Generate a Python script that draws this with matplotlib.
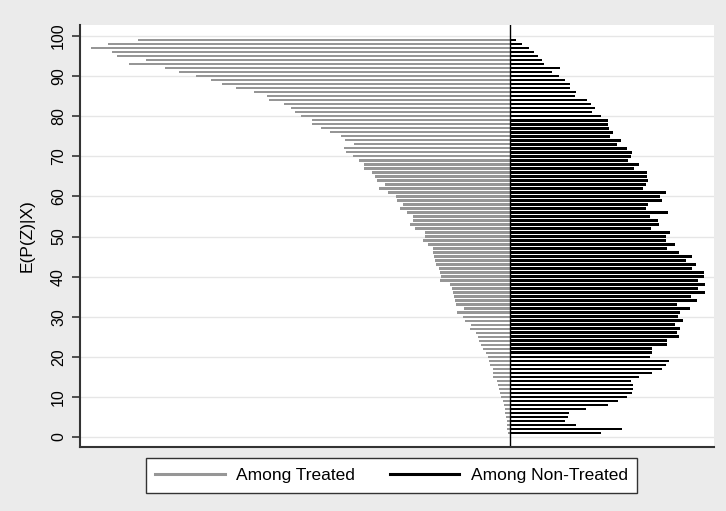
import matplotlib.pyplot as plt
from matplotlib.lines import Line2D
import numpy as np

# E(P(Z)|X) percentiles (1..99)
levels = np.arange(99, 0, -1)

# bar lengths (picture units), listed from 99 down to 1
treated = [371.4, 401.4, 419.0, 397.4, 392.7, 363.7, 380.7, 344.7, 330.7, 313.4,
           298.7, 287.4, 273.7, 255.4, 242.7, 240.7, 226.0, 218.7, 214.7, 208.4,
           197.4, 197.4, 188.7, 179.7, 169.0, 164.4, 155.4, 165.4, 163.7, 156.7,
           150.4, 145.7, 145.7, 137.4, 134.4, 133.0, 124.7, 130.4, 122.0, 114.0,
           113.0, 106.4, 109.4, 102.4, 97.0, 97.0, 100.0, 94.7, 84.7, 84.7,
           86.4, 81.4, 77.0, 76.4, 75.7, 75.0, 74.0, 70.7, 69.7, 68.7,
           69.7, 59.7, 58.0, 56.4, 55.4, 54.7, 53.7, 45.4, 53.0, 47.0,
           44.7, 38.7, 39.7, 33.7, 31.4, 30.4, 29.0, 27.0, 23.7, 21.4,
           20.7, 19.7, 17.0, 16.4, 16.4, 13.0, 11.4, 10.4, 9.7, 9.0,
           7.0, 5.7, 4.7, 4.4, 3.7, 3.0, 3.0, 2.4, 2.0]

non_treated = [6.3, 12.0, 19.3, 24.3, 28.0, 32.0, 34.7, 50.3, 42.0, 49.3,
               55.3, 60.3, 60.3, 66.3, 65.0, 77.0, 81.0, 85.3, 82.0, 91.3,
               98.7, 98.0, 99.3, 103.7, 100.7, 111.3, 107.3, 117.3, 122.7, 121.7,
               118.0, 129.7, 124.3, 137.0, 137.7, 138.3, 136.3, 133.7, 156.3, 150.3,
               152.3, 138.3, 136.0, 158.0, 140.3, 148.7, 149.3, 141.7, 160.3, 156.3,
               156.0, 165.0, 157.7, 169.0, 182.3, 176.7, 186.3, 182.3, 194.0, 194.0,
               188.7, 195.3, 188.7, 195.3, 181.7, 187.0, 167.7, 180.3, 170.3, 168.0,
               173.7, 165.7, 170.3, 167.0, 169.7, 157.7, 157.0, 142.7, 142.3, 140.3,
               159.0, 156.3, 152.3, 142.7, 129.7, 121.3, 123.7, 123.7, 122.0, 117.7,
               108.0, 98.7, 76.3, 59.7, 58.3, 55.7, 66.3, 112.0, 91.0]

yticks = np.arange(0, 101, 10)
labels = ['Among Treated', 'Among Non-Treated']

plt.rcParams['font.family'] = ['Liberation Sans', 'DejaVu Sans']

fig = plt.figure(figsize=(7.26, 5.11), dpi=100, facecolor='#ebebeb')
ax = fig.add_axes([80 / 726, 64 / 511, 634 / 726, 422 / 511])
ax.set_facecolor('white')

ax.barh(levels, -np.array(treated), height=0.6, color='#969696', label=labels[0])
ax.barh(levels, non_treated, height=0.65, color='black', label=labels[1])
ax.axvline(0, color='black', linewidth=1.0)

ax.set_xlim(-429.7, 204.3)
ax.set_ylim(-2.49, 102.74)
ax.set_yticks(yticks)
ax.set_yticklabels([str(t) for t in yticks], rotation=90, va='center', fontsize=11.5)
ax.set_xticks([])
ax.grid(axis='y', color='#e6e6e6', linewidth=1.0)
ax.set_axisbelow(True)
ax.tick_params(axis='y', length=6, width=1.2, color='#333333', pad=4)
for s in ['top', 'right']:
    ax.spines[s].set_visible(False)
for s in ['left', 'bottom']:
    ax.spines[s].set_color('#333333')
    ax.spines[s].set_linewidth(1.5)

ax.set_ylabel('E(P(Z)|X)', fontsize=12.5, labelpad=12)

handles = [Line2D([0], [0], color='#969696', linewidth=2.2),
           Line2D([0], [0], color='black', linewidth=2.2)]
fig.legend(handles, labels, loc='center', bbox_to_anchor=(391.5 / 726, 1 - 475.5 / 511),
           ncol=2, fontsize=12.5, frameon=True, fancybox=False, edgecolor='#333333',
           facecolor='white', framealpha=1, handlelength=4.0, handletextpad=0.65,
           columnspacing=2.0, borderpad=0.55)

plt.savefig('out.png', dpi=100, facecolor=fig.get_facecolor())
